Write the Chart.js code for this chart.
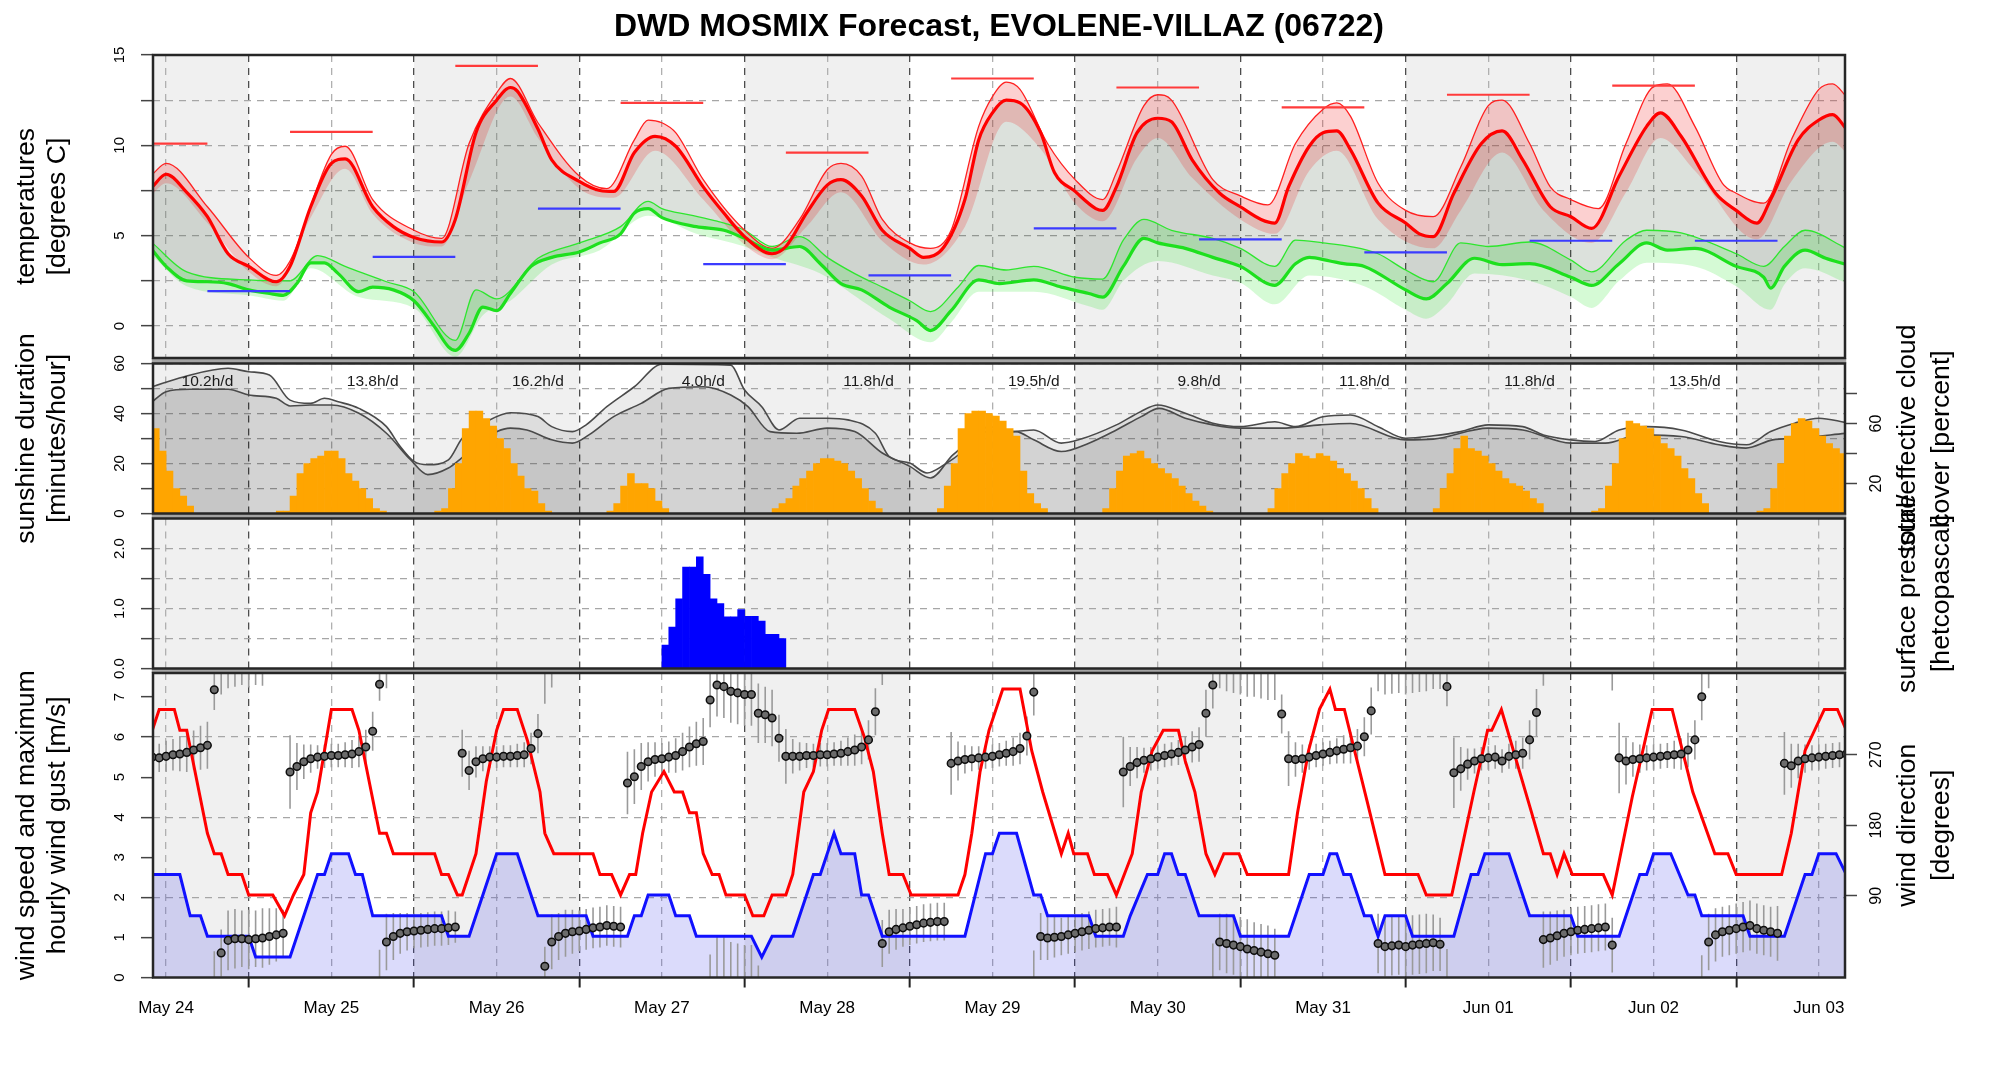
<!DOCTYPE html>
<html>
<head>
<meta charset="utf-8">
<title>DWD MOSMIX Forecast</title>
<script src="https://cdn.jsdelivr.net/npm/chart.js@4.4.1/dist/chart.umd.min.js"></script>
<style>
  html, body { margin:0; padding:0; background:#ffffff; }
  #wrap { position:relative; width:2000px; height:1067px; overflow:hidden; background:#fff; }
  #wrap canvas { position:absolute; left:0; top:0; }
  #title { position:absolute; left:0; top:7px; width:1998px; text-align:center;
           font-family:"Liberation Sans", Arial, sans-serif; font-weight:bold; font-size:32px;
           line-height:36px; color:#000; white-space:nowrap; }
</style>
</head>
<body>
<div id="wrap">
  <canvas id="cTemp" width="2000" height="1067"></canvas>
  <canvas id="cSun" width="2000" height="1067"></canvas>
  <canvas id="cRain" width="2000" height="1067"></canvas>
  <canvas id="cWind" width="2000" height="1067"></canvas>
  <div id="title">DWD MOSMIX Forecast, EVOLENE-VILLAZ (06722)</div>
</div>
<script>
// ---------------- DATA (hours counted from May 24 00:00 UTC) ----------------
const dayLabels = ['May 24','May 25','May 26','May 27','May 28','May 29','May 30','May 31','Jun 01','Jun 02','Jun 03'];

// 2 m temperature (thick red)
const tempHours = [10,12,15,18,21,24,28,30,33,36,38,42,45,48,52,54,57,60,62,63,66,68,72,75,77,80,83,86,90,93,96,100,102,105,108,110,113,116,120,122,125,128,130,132,134,136,139,141,144,147,148,150,153,156,158,161,165,168,171,173,175,178,180,182,184,188,192,194,196,199,203,206,209,213,216,219,223,227,229,232,237,240,243,245,249,252,254,256];
const tempMain  = [7.7,8.4,7.4,6.05,4.0,3.3,2.45,3.3,6.6,9.0,9.25,6.6,5.5,4.9,4.65,5.9,10.7,12.5,13.2,13.0,10.9,9.2,8.0,7.5,7.45,9.6,10.5,9.95,7.7,6.25,4.95,4.0,4.4,6.25,7.8,8.1,7.2,5.3,4.3,3.8,4.4,7.0,10.3,11.8,12.5,12.35,10.7,8.5,7.45,6.5,6.4,7.7,10.7,11.5,11.3,9.2,7.35,6.6,5.9,5.7,7.7,9.95,10.7,10.8,9.75,6.8,5.7,5.1,4.95,7.35,10.1,10.8,9.2,6.6,6.05,5.4,8.3,11.05,11.8,10.5,7.35,6.4,5.7,7.0,10.3,11.4,11.7,10.9];
// upper edge of temperature spread (thin red)
const tempUpHours = [10,12,18,24,28,30,36,38,42,48,52,56,60,62,66,72,76,80,82,84,86,90,96,100,104,108,110,113,116,120,123,126,130,132,134,136,140,144,148,150,154,156,158,164,168,172,176,180,182,184,188,192,196,200,204,206,210,213,216,220,224,228,230,234,238,240,244,248,252,254,256];
const tempUp      = [8.4,9.0,6.6,3.8,2.8,3.6,9.5,9.95,7.0,5.3,4.85,10.1,12.9,13.7,11.25,8.3,7.6,10.3,11.4,11.25,10.7,8.1,5.3,4.3,5.9,8.65,9.0,8.3,5.9,4.6,4.3,5.3,11.05,12.7,13.5,13.1,10.1,8.1,7.0,8.5,12.2,12.8,12.5,8.1,7.2,6.7,10.1,12.0,12.35,11.6,7.9,6.4,6.05,8.8,12.2,12.5,10.1,7.7,7.0,6.5,10.1,13.25,13.4,11.05,7.9,7.35,6.8,10.3,13.1,13.4,12.7];
// lower edge of temperature spread
const tempLoHours = [10,12,18,24,28,33,38,42,48,52,56,62,66,72,77,83,90,96,100,105,110,116,122,128,134,139,144,148,153,156,161,168,173,178,182,188,196,200,206,212,219,224,229,234,243,248,254,256];
const tempLo      = [7.3,7.9,5.7,3.0,2.2,6.0,8.7,6.2,4.6,4.4,8.0,12.7,10.4,7.6,7.1,9.7,7.0,4.5,3.7,5.5,7.4,4.7,3.4,5.5,11.3,9.8,6.8,5.8,9.3,10.4,8.2,5.9,5.1,8.6,9.7,5.9,4.3,6.4,9.6,6.4,4.6,7.4,10.4,8.6,4.8,8.0,10.2,9.6];

// dew point (thick green)
const dewHours = [10,12,15,18,21,24,27,29,31,33,35,37,40,42,45,48,51,53,54,56,58,60,62,65,68,72,75,78,80,82,84,89,93,96,100,104,107,110,113,117,121,123,126,130,133,138,142,146,148,151,154,156,160,164,168,173,176,178,181,183,186,192,195,198,202,206,210,216,219,223,227,230,234,240,244,245,247,250,253,256];
const dewMain  = [4.2,3.3,2.5,2.45,2.35,2.0,1.8,1.7,2.35,3.5,3.5,2.9,1.9,2.15,2.0,1.4,-0.05,-1.15,-1.35,-0.4,1.05,0.85,1.8,3.3,3.8,4.1,4.6,5.1,6.25,6.5,6.0,5.5,5.3,4.85,4.2,4.4,3.45,2.35,2.0,1.05,0.3,-0.25,0.85,2.55,2.35,2.55,2.15,1.8,1.6,3.3,4.85,4.6,4.3,3.8,3.3,2.25,3.45,3.8,3.6,3.45,3.3,2.0,1.5,2.35,3.75,3.4,3.45,2.7,2.25,3.45,4.6,4.2,4.3,3.3,2.7,2.1,3.3,4.2,3.75,3.4];
const dewUpHours = [10,15,24,30,34,38,44,48,54,57,60,66,72,78,82,84,88,92,96,100,104,108,112,116,120,123,127,130,134,138,144,148,151,154,158,164,168,173,176,180,184,188,192,196,200,204,210,216,219,224,227,232,240,244,247,250,256];
const dewUp      = [4.6,3.0,2.55,2.5,3.9,3.3,2.45,1.9,-0.8,2.0,1.5,3.75,4.6,5.5,6.9,6.5,6.15,5.8,5.3,4.4,4.95,3.8,2.9,2.15,1.4,0.8,2.15,3.35,3.1,3.3,2.7,2.6,4.75,5.9,5.3,4.85,4.3,3.3,4.75,4.6,4.4,4.0,3.1,2.45,4.6,4.4,4.65,3.65,3.0,4.75,5.3,5.15,4.0,3.3,4.4,5.3,4.3];
const dewLoHours = [10,15,24,29,33,40,48,54,58,62,68,75,82,89,96,100,107,113,117,123,126,130,138,146,148,151,156,164,168,173,178,186,192,195,198,202,210,216,219,223,227,234,240,245,247,250,256];
const dewLo      = [3.9,2.2,1.7,1.4,3.2,1.6,1.0,-1.7,0.6,1.4,3.4,4.2,6.1,5.1,4.4,3.8,2.9,1.4,0.4,-0.9,0.2,1.9,1.9,1.1,0.9,2.5,3.6,2.8,2.4,1.2,2.8,2.2,0.9,0.4,1.2,2.9,2.5,1.6,1.0,2.5,3.5,3.3,2.2,0.9,2.3,3.2,2.4];

// daily max (06-18) and min (18-06) temperature bars
const tmaxStart = [6,30,54,78,102,126,150,174,198,222];
const tmaxVal   = [10.1,10.74,14.4,12.35,9.6,13.7,13.2,12.1,12.8,13.3];
const tminStart = [18,42,66,90,114,138,162,186,210,234];
const tminVal   = [1.93,3.83,6.5,3.43,2.8,5.4,4.8,4.08,4.72,4.72];

// cloud cover [percent]
const cloudTotHours = [10,14.5,21,24,27,30,33,35,37,40,44,46,48,50,53,55,58.5,62,66,68,71,73,76,80,84,94,96,98.5,101,104,108,111,115,117,120,122.5,125,128,131.5,135,138,142,144.5,150,153.5,156,160,164,168,173,176,180,184,188,192,196,200,204,209,212,216,219.5,223,227,232,237.5,241.5,245,248.5,252,256];
const cloudTot      = [84.5,91,96.8,94.5,92.3,75.6,73.4,76.8,74.5,70.1,57.9,44.7,34.7,32.5,35.8,50.2,61.2,67.2,64.6,57.9,54.6,59.1,71.2,84.5,99.5,98.9,82.3,71.2,55.7,63.5,63.5,62.4,53.5,38.0,33.6,27.0,32.5,42.5,57.9,54.6,55.7,46.9,49.1,59.1,67.9,72.3,66.8,60.2,57.9,61.2,57.9,64.5,65.7,57.9,50.2,51.8,54.6,59.1,57.9,52.4,49.1,48.0,55.7,57.9,55.7,48.0,45.8,54.6,60.2,63.5,60.6];
const cloudEffHours = [10,12,15.5,21,24,28,30,33,36,40,44,47.5,50,53,54.6,58,62,64.4,68,71,73.4,77,81,85,90,94,96.5,99.7,103.6,108,112,116,120,123,126.3,131.5,135.4,138,142,146,150,153.6,156.2,160,164,168,174,179.6,184,192,196,204,209,216,221,226,232,237.5,241.4,245.3,249,256];
const cloudEff      = [74.5,81.2,82.8,82.8,79,76.8,71.7,72.3,72.3,66.8,53.5,35.8,25.9,30.3,35.8,49.1,56.9,55.7,49.1,46.9,52.4,64.6,73.4,83.4,84.5,79.0,71.2,54.6,53.5,56.9,54.6,40.3,31.4,23.7,39.2,54.6,54.6,49.1,41.3,46.9,55.7,64.6,70.1,63.5,59.1,56.9,56.9,59.1,60.0,49.1,49.6,56.9,55.7,46.9,46.9,52.4,51.3,45.8,43.6,49.1,50.2,53.5];

// hourly sunshine duration [minutes/hour]; first hour of each daylight block
const sunStart  = [10,28,51,76,100,124,148,172,196,219,243];
const sunValues = [
  [34,25,17,10,7,3],
  [1,1,7,16,20,22,23,25,25,22,16,13,10,6,2,1],
  [1,2,10,20,34,41,41,38,35,30,26,20,15,10,9,4,1],
  [1,4,11,16,12,12,10,5,2],
  [2,4,6,11,14,17,20,22,22,21,20,17,14,10,5,2],
  [2,11,20,34,40,41,41,40,39,37,34,31,17,8,4,2],
  [2,10,17,23,24,25,22,20,18,16,14,11,8,5,3,1],
  [2,10,16,20,24,23,22,24,23,21,18,16,13,10,6,2],
  [2,10,16,26,31,26,25,23,20,17,14,12,11,9,6,4],
  [1,2,11,20,30,37,36,35,34,31,28,26,23,18,14,8,4],
  [1,2,10,20,31,36,38,37,34,31,28,26,24,20]
];
const sunDailyText = ['10.2h/d','13.8h/d','16.2h/d','4.0h/d','11.8h/d','19.5h/d','9.8h/d','11.8h/d','11.8h/d','13.5h/d'];

// hourly precipitation [mm]
const precipStart  = 84;
const precipValues = [0.39,0.69,1.16,1.69,1.69,1.86,1.57,1.16,1.08,0.86,0.86,0.98,0.87,0.87,0.79,0.57,0.57,0.50];

// wind speed and hourly max gust [m/s]
const windHours = [10,14,15.5,17,18,24,25,30,34,35,36,38.5,39.5,40.5,42,52,53,56,60,63,66,73,74,79,80,81,82,85,86,88,89,97,98.5,100,103,106,107,109,110,112,113,114,116,128,131,132,133,135.5,138,139,140,146,147,151,152,154.5,156,157,158,159,160,162,167,168,175,178,180,181,182,183,184,185,186,187,188,189,192,193,199,201.5,202.5,203.5,207,210,216,217,223,226,227,228,230.5,233,234,235,241,242,247,250,251,252,254.5,256];
const windSpeed = [2.57,2.57,1.54,1.54,1.03,1.03,0.51,0.51,2.57,2.57,3.09,3.09,2.57,2.57,1.54,1.54,1.03,1.03,3.09,3.09,1.54,1.54,1.03,1.03,1.54,1.54,2.06,2.06,1.54,1.54,1.03,1.03,0.51,1.03,1.03,2.57,2.57,3.6,3.09,3.09,2.06,2.06,1.03,1.03,3.09,3.09,3.6,3.6,2.06,2.06,1.54,1.54,1.03,1.03,1.54,2.57,2.57,3.09,3.09,2.57,2.57,1.54,1.54,1.03,1.03,2.57,2.57,3.09,3.09,2.57,2.57,2.06,1.54,1.54,1.03,1.54,1.54,1.03,1.03,2.57,2.57,3.09,3.09,1.54,1.54,1.03,1.03,2.57,2.57,3.09,3.09,2.06,2.06,1.54,1.54,1.03,1.03,2.57,2.57,3.09,3.09,2.57];
const gustHours = [10,11,13.2,14,15,18,19,20,21,23,24,27.5,29.2,30.5,32,33,34,36,39,40,43,44,45,51,52,53,54.3,55,57,58.5,60,61,63,64.5,66.3,67,68.3,74,75,76.7,78,79.3,80.2,81.2,82.5,84.3,85.8,87,88,89,90,91.3,92.3,93.3,96,97.2,98.8,100,102,103,104.6,106,107.2,108.2,112,113.4,114.7,116,117,119,120.2,127,128,129,130.2,131.5,133.5,136,137.7,139.3,142,143,143.8,145.8,146.8,148.7,150,152.3,153.6,155.2,156.8,159,160,161.4,163,164.3,165.6,167.8,169,175,176.3,177.9,179.5,181,181.8,183.1,186.4,189,193.8,195,198.7,201.9,203.9,204.5,205.9,210.3,212,213,214,215,216.2,220.7,222,224.9,227.8,230.7,233.7,236.9,238.8,240,246.6,248,250,252.8,254.7,256];
const gust      = [6.17,6.69,6.69,6.17,6.17,3.6,3.09,3.09,2.57,2.57,2.06,2.06,1.54,2.06,2.57,4.11,4.63,6.69,6.69,6.17,3.6,3.6,3.09,3.09,2.57,2.57,2.06,2.06,3.09,4.9,6.17,6.69,6.69,5.9,4.63,3.6,3.09,3.09,2.57,2.57,2.06,2.57,2.57,3.6,4.63,5.14,4.63,4.63,4.11,4.11,3.09,2.57,2.57,2.06,2.06,1.54,1.54,2.06,2.06,2.57,4.63,5.14,6.17,6.69,6.69,6.0,5.14,3.6,2.57,2.57,2.06,2.06,2.57,3.6,5.14,6.17,7.2,7.2,5.66,4.63,3.09,3.6,3.09,3.09,2.57,2.57,2.06,3.09,4.63,5.66,6.17,6.17,5.4,4.63,3.09,2.57,3.09,3.09,2.57,2.57,4.11,5.66,6.7,7.2,6.69,6.69,4.4,2.57,2.57,2.06,2.06,4.63,6.17,6.17,6.69,4.11,3.09,3.09,2.57,3.09,2.57,2.57,2.06,4.5,6.69,6.69,4.63,3.09,3.09,2.57,2.57,3.6,5.66,6.69,6.69,6.17];

// hourly wind direction [degrees] and its spread (half range), from hour 10 on
const dirStartHour = 10;
const dirDeg = [
  267,266,268,270,271,273,276,279,282, 353,17, 33,35,35,34,35,36,38,40,42,
  248,255,261,265,267,268,269,269,270,271,274,280, 300,360, 31,38,42,44,45,46,47,48,48,49,50,
  272,250,261,265,267,267,268,268,269,270,278,297, 0, 31,38,42,44,45,47,49,50,52,51,50,
  234,242,255,261,264,265,267,269,274,280,284,287, 340,359,357,351,349,347,347,323,321,317,291,
  268,268,268,269,269,270,270,271,272,274,276,280,289,325, 29,44,47,49,51,53,55,56,57,57,
  259,262,264,265,266,267,268,270,272,274,278,294,350, 38,36,37,38,40,42,44,46,48,49,50,50,
  248,255,260,263,265,267,269,271,273,276,280,283,323,359, 31,29,27,25,22,20,18,16,14, 322,
  265,264,265,267,269,271,273,275,277,279,281,293,326, 29,25,26,27,25,27,28,29,30,28, 357,
  247,252,258,262,265,266,267,262,268,270,272,289,324, 34,36,39,42,44,46,47,48,49,50,27,
  266,262,264,265,266,267,268,269,270,271,276,289,344, 31,40,44,46,48,50,52,48,46,44,42,
  259,256,262,265,266,267,268,269,270,271
];
const dirSpread = [
  18,18,20,20,22,25,25,28,30, 26,30, 38,38,36,38,36,38,36,34,30,
  47,30,22,18,15,15,15,15,16,18,20,22, 25,21, 36,30,26,24,22,22,22,22,22,22,20,
  30,25,20,16,14,14,14,14,15,16,20,25, 25, 35,30,30,28,26,26,26,26,26,26,26,
  40,35,30,25,22,20,20,22,24,26,28,30, 35,40,40,40,40,40,40,38,36,36,30,
  35,22,18,16,15,15,15,15,16,18,20,22,25,30, 30,28,26,24,24,24,24,24,24,24,
  40,25,18,16,15,15,15,15,16,18,20,25,30, 30,28,26,24,24,24,24,24,24,24,24,26,
  45,25,20,16,15,15,15,15,16,18,20,22,30,30, 36,38,38,38,38,36,36,36,34, 25,
  35,22,18,16,15,15,15,16,18,20,22,25,30, 38,38,38,38,38,38,38,38,36,34, 25,
  45,28,20,16,15,15,15,15,16,18,20,25,30, 36,34,32,30,30,30,30,30,30,30,35,
  45,30,22,18,16,16,16,16,18,20,22,25,30, 36,34,32,32,32,32,32,32,32,32,35,
  40,28,22,18,16,16,16,16,16,16
];

// ---------------- LAYOUT / STYLE ----------------
const FONT = '"Liberation Sans", Arial, Helvetica, sans-serif';
Chart.defaults.font.family = FONT;
const X_MIN = 10.1, X_MAX = 255.8;
const PAGE_W = 2000, PAGE_H = 1067;
const PLOT_LEFT = 153, PLOT_RIGHT = 1845;
const LEFT_AXIS_W = 100, RIGHT_AXIS_W = 60, X_AXIS_H = 60;
const PANELS = {
  temp: { top: 55,    bottom: 358 },
  sun:  { top: 363.5, bottom: 513.5 },
  rain: { top: 518.5, bottom: 668.5 },
  wind: { top: 673,   bottom: 977.5 }
};
const TITLE_FONT = '26.7px ' + FONT;
const LEFT_TITLE_X = [27, 58], RIGHT_TITLE_X = [1908, 1942];

const gridHours = [];
for (let h = 12; h < X_MAX; h += 12) gridHours.push(h);

function pts(hours, vals) { return hours.map((h, i) => ({ x: h, y: vals[i] })); }
function segs(starts, vals, len) {
  const d = [];
  starts.forEach((s, i) => { d.push({ x: s, y: vals[i] }, { x: s + len, y: vals[i] }, { x: s + len, y: null }); });
  return d;
}
function blockBars(starts, blocks) {
  const d = [];
  starts.forEach((s, k) => blocks[k].forEach((v, i) => d.push({ x: s + i + 0.5, y: v })));
  return d;
}
function whiskerPoints() {
  const out = [];
  dirDeg.forEach((d, i) => {
    const h = dirStartHour + i, lo = d - dirSpread[i], hi = d + dirSpread[i];
    out.push({ x: h, y: lo }, { x: h, y: hi }, { x: h, y: null });
    if (lo < 0) out.push({ x: h, y: lo + 360 }, { x: h, y: 420 }, { x: h, y: null });
    if (hi > 360) out.push({ x: h, y: -60 }, { x: h, y: hi - 360 }, { x: h, y: null });
  });
  return out;
}

function xScale(showLabels) {
  return {
    type: 'linear', position: 'bottom', min: X_MIN, max: X_MAX, offset: false,
    afterBuildTicks: s => { s.ticks = gridHours.map(v => ({ value: v })); },
    afterFit: s => { s.height = showLabels ? X_AXIS_H : 0; },
    grid: {
      offset: false, drawOnChartArea: true, drawTicks: showLabels, tickLength: 10, tickWidth: 2, lineWidth: 1.3,
      color: c => (c.tick && c.tick.value % 24 === 0) ? '#4d4d4d' : '#b0b0b0',
      tickColor: c => (c.tick && c.tick.value % 24 === 0) ? '#222' : 'rgba(0,0,0,0)'
    },
    border: { display: false, dash: [7, 6] },
    ticks: {
      display: showLabels, autoSkip: false, maxRotation: 0, minRotation: 0, padding: 11,
      color: '#000', font: { family: FONT, size: 17 },
      callback: v => (v % 24 === 12) ? dayLabels[(v - 12) / 24] : ''
    }
  };
}
function yLeft(min, max, tickVals, labelFn, gridColorFn, pad) {
  return {
    type: 'linear', position: 'left', min, max,
    afterBuildTicks: s => { s.ticks = tickVals.map(v => ({ value: v })); },
    afterFit: s => { s.width = LEFT_AXIS_W; },
    grid: { drawOnChartArea: true, drawTicks: true, tickLength: 12, tickWidth: 1.5, tickColor: '#444', lineWidth: 1.3, color: gridColorFn },
    border: { display: false, dash: [7, 6] },
    ticks: { autoSkip: false, minRotation: 90, maxRotation: 90, crossAlign: 'center', padding: pad, color: '#000', font: { family: FONT, size: 15 }, callback: labelFn }
  };
}
function yRight(min, max, tickVals, labelFn, pad) {
  return {
    type: 'linear', position: 'right', min, max,
    afterBuildTicks: s => { s.ticks = tickVals.map(v => ({ value: v })); },
    afterFit: s => { s.width = RIGHT_AXIS_W; },
    grid: { drawOnChartArea: false, drawTicks: true, tickLength: 12, tickWidth: 1.5, tickColor: '#444' },
    border: { display: false },
    ticks: { autoSkip: false, minRotation: 90, maxRotation: 90, crossAlign: 'center', padding: pad, color: '#000', font: { family: FONT, size: 16 }, callback: labelFn }
  };
}

// ---------------- PLUGINS ----------------
const bandsPlugin = {
  id: 'dayBands',
  beforeDraw(chart) {
    const a = chart.chartArea, xs = chart.scales.x, ctx = chart.ctx;
    ctx.save();
    ctx.beginPath(); ctx.rect(a.left, a.top, a.right - a.left, a.bottom - a.top); ctx.clip();
    ctx.fillStyle = '#ffffff'; ctx.fillRect(a.left, a.top, a.right - a.left, a.bottom - a.top);
    ctx.fillStyle = '#f0f0f0';
    for (let d = 0; d * 24 < X_MAX; d += 2) {
      const x0 = xs.getPixelForValue(d * 24), x1 = xs.getPixelForValue(d * 24 + 24);
      ctx.fillRect(x0, a.top, x1 - x0, a.bottom - a.top);
    }
    ctx.restore();
  }
};
const framePlugin = {
  id: 'frame',
  afterDraw(chart, args, opts) {
    const a = chart.chartArea, ctx = chart.ctx;
    ctx.save();
    if (opts.gapBelow) {
      ctx.fillStyle = '#a3a3a3';
      ctx.fillRect(a.left - 1.25, a.bottom, a.right - a.left + 2.5, opts.gapBelow);
    }
    ctx.strokeStyle = '#262626'; ctx.lineWidth = 2.5;
    ctx.strokeRect(a.left, a.top, a.right - a.left, a.bottom - a.top);
    ctx.restore();
  }
};
const titlesPlugin = {
  id: 'axisTitles',
  afterDraw(chart, args, opts) {
    const a = chart.chartArea, ctx = chart.ctx;
    const cy = (a.top + a.bottom) / 2;
    ctx.save();
    ctx.fillStyle = '#000'; ctx.font = TITLE_FONT;
    ctx.textAlign = 'center'; ctx.textBaseline = 'middle';
    (opts.items || []).forEach(it => {
      it.lines.forEach((line, k) => {
        ctx.save();
        ctx.translate(it.x[k], cy);
        ctx.rotate(-Math.PI / 2);
        ctx.fillText(line, 0, 0);
        ctx.restore();
      });
    });
    ctx.restore();
  }
};
const sunTextPlugin = {
  id: 'sunText',
  afterDatasetsDraw(chart) {
    const xs = chart.scales.x, ctx = chart.ctx, a = chart.chartArea;
    ctx.save();
    ctx.fillStyle = '#1a1a1a'; ctx.font = '15.5px ' + FONT;
    ctx.textAlign = 'center'; ctx.textBaseline = 'middle';
    sunDailyText.forEach((t, i) => ctx.fillText(t, xs.getPixelForValue(18 + 24 * i), a.top + 18));
    ctx.restore();
  }
};

function makeChart(id, panel, showX, hasRight, scales, datasets, pluginOpts, extraPlugins) {
  return new Chart(document.getElementById(id), {
    type: 'line',
    data: { datasets },
    options: {
      responsive: false, animation: false, devicePixelRatio: 1, events: [],
      layout: { padding: {
        left: PLOT_LEFT - LEFT_AXIS_W,
        right: PAGE_W - PLOT_RIGHT - (hasRight ? RIGHT_AXIS_W : 0),
        top: panel.top,
        bottom: PAGE_H - panel.bottom - (showX ? X_AXIS_H : 0)
      } },
      plugins: Object.assign({
        legend: { display: false }, tooltip: { enabled: false }, title: { display: false },
        filler: { drawTime: 'beforeDatasetsDraw', propagate: false }
      }, pluginOpts),
      scales: Object.assign({ x: xScale(showX) }, scales)
    },
    plugins: [bandsPlugin, framePlugin, titlesPlugin].concat(extraPlugins || [])
  });
}

const gridGray = () => '#a6a6a6';
const smooth = { cubicInterpolationMode: 'monotone', pointRadius: 0 };

// ---------------- PANEL 1: temperatures ----------------
makeChart('cTemp', PANELS.temp, false, false,
  { y: yLeft(-1.77, 15, [0, 2.5, 5, 7.5, 10, 12.5, 15], v => (v % 5 === 0 ? String(v) : ''), gridGray, 12.7) },
  [
    { data: segs(tmaxStart, tmaxVal, 12), borderColor: '#ff3b3b', borderWidth: 2.2, pointRadius: 0, order: 0 },
    { data: segs(tminStart, tminVal, 12), borderColor: '#3b3bff', borderWidth: 2.2, pointRadius: 0, order: 0 },
    Object.assign({ data: pts(tempHours, tempMain), borderColor: '#ff0000', borderWidth: 3.2, order: 1 }, smooth),
    Object.assign({ data: pts(dewHours, dewMain), borderColor: '#1ee01e', borderWidth: 3.2, order: 1 }, smooth),
    Object.assign({ data: pts(tempUpHours, tempUp), borderColor: '#ff2020', borderWidth: 1.3, order: 2,
      fill: { target: 6 }, backgroundColor: 'rgba(240,20,20,0.2)' }, smooth),
    Object.assign({ data: pts(dewUpHours, dewUp), borderColor: '#2ee62e', borderWidth: 1.3, order: 2,
      fill: { target: 7 }, backgroundColor: 'rgba(20,230,20,0.18)' }, smooth),
    Object.assign({ data: pts(tempLoHours, tempLo), borderWidth: 0, borderColor: 'rgba(0,0,0,0)', order: 6 }, smooth),
    Object.assign({ data: pts(dewLoHours, dewLo), borderWidth: 0, borderColor: 'rgba(0,0,0,0)', order: 6 }, smooth),
    Object.assign({ data: pts(tempHours, tempMain), borderWidth: 0, borderColor: 'rgba(0,0,0,0)', order: 8,
      fill: { target: 3, above: 'rgba(45,75,45,0.17)', below: 'rgba(45,75,45,0.17)' } }, smooth)
  ],
  { frame: { gapBelow: PANELS.sun.top - PANELS.temp.bottom },
    axisTitles: { items: [{ lines: ['temperatures', '[degrees C]'], x: LEFT_TITLE_X }] } }
);

// ---------------- PANEL 2: sunshine & cloud ----------------
makeChart('cSun', PANELS.sun, false, true,
  {
    y: yLeft(0, 60, [0, 10, 20, 30, 40, 50, 60], v => (v % 20 === 0 ? String(v) : ''), gridGray, 12.7),
    yc: yRight(0, 100, [20, 40, 60, 80], v => (v === 20 || v === 60 ? String(v) : ''), 11.1)
  },
  [
    { type: 'bar', data: blockBars(sunStart, sunValues), backgroundColor: '#ffa500', borderWidth: 0,
      barPercentage: 1, categoryPercentage: 1, yAxisID: 'y', order: 0 },
    Object.assign({ data: pts(cloudEffHours, cloudEff), borderColor: '#4a4a4a', borderWidth: 1.6, yAxisID: 'yc', order: 1,
      fill: 'origin', backgroundColor: 'rgba(0,0,0,0.1)' }, smooth),
    Object.assign({ data: pts(cloudTotHours, cloudTot), borderColor: '#4a4a4a', borderWidth: 1.6, yAxisID: 'yc', order: 2,
      fill: 'origin', backgroundColor: 'rgba(0,0,0,0.08)' }, smooth)
  ],
  { frame: { gapBelow: PANELS.rain.top - PANELS.sun.bottom },
    axisTitles: { items: [
      { lines: ['sunshine duration', '[minutes/hour]'], x: LEFT_TITLE_X },
      { lines: ['total/effective cloud', 'cover [percent]'], x: RIGHT_TITLE_X }
    ] } },
  [sunTextPlugin]
);

// ---------------- PANEL 3: precipitation ----------------
makeChart('cRain', PANELS.rain, false, false,
  { y: yLeft(0, 2.5, [0, 0.5, 1, 1.5, 2], v => (v % 1 === 0 ? v.toFixed(1) : ''), gridGray, 10.6) },
  [
    { type: 'bar', data: precipValues.map((v, i) => ({ x: precipStart + i + 0.5, y: v })), backgroundColor: '#0000ff',
      borderWidth: 0, barPercentage: 1, categoryPercentage: 1, order: 0 }
  ],
  { frame: { gapBelow: PANELS.wind.top - PANELS.rain.bottom },
    axisTitles: { items: [{ lines: ['surface pressure', '[hetcopascal]'], x: RIGHT_TITLE_X }] } }
);

// ---------------- PANEL 4: wind ----------------
makeChart('cWind', PANELS.wind, true, true,
  {
    y: yLeft(0, 7.6, [0, 1, 2, 3, 4, 5, 6, 7], v => String(v), c => (c.tick && [2, 4, 6].includes(c.tick.value)) ? '#a6a6a6' : 'rgba(0,0,0,0)', 16.8),
    yd: yRight(-14.4, 374.4, [90, 180, 270], v => String(v), 6.7)
  },
  [
    { data: dirDeg.map((d, i) => ({ x: dirStartHour + i, y: d })), yAxisID: 'yd', showLine: false,
      pointRadius: 3.8, pointBackgroundColor: '#6b6b6b', pointBorderColor: '#0d0d0d', pointBorderWidth: 1.5, order: 0 },
    { data: pts(windHours, windSpeed), yAxisID: 'y', borderColor: '#1010ff', borderWidth: 3, pointRadius: 0,
      fill: 'origin', backgroundColor: 'rgba(40,40,230,0.17)', order: 1 },
    { data: pts(gustHours, gust), yAxisID: 'y', borderColor: '#ff0000', borderWidth: 3, pointRadius: 0, order: 2 },
    { data: whiskerPoints(), yAxisID: 'yd', borderColor: '#9a9a9a', borderWidth: 1.6, pointRadius: 0, order: 3, clip: 0 }
  ],
  { frame: {},
    axisTitles: { items: [
      { lines: ['wind speed and maximum', 'hourly wind gust [m/s]'], x: LEFT_TITLE_X },
      { lines: ['wind direction', '[degrees]'], x: RIGHT_TITLE_X }
    ] } }
);
</script>
</body>
</html>
